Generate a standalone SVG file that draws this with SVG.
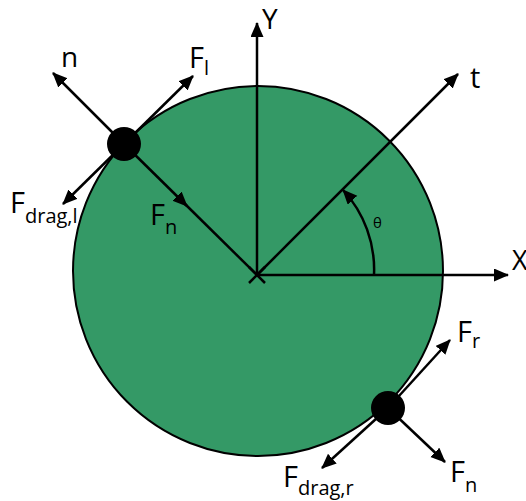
<svg xmlns="http://www.w3.org/2000/svg" width="526" height="501" viewBox="0 0 526 501">
<defs>
<marker id="ah" markerUnits="userSpaceOnUse" markerWidth="17" markerHeight="14" refX="14" refY="6.5" orient="auto">
<path d="M0,0 L15,6.5 L0,13 Z" fill="#000"/>
</marker>
<style>
.ln{stroke:#000;stroke-width:2.5;fill:none}
.ar{stroke:#000;stroke-width:2.5;fill:none;marker-end:url(#ah)}
.lb{font-family:"Open Sans","Liberation Sans",sans-serif;fill:#000}
.big{font-size:29px}
.sub{font-size:20px}
</style>
</defs>
<rect width="526" height="501" fill="#fff"/>
<g id="disk">
<ellipse cx="258" cy="271" rx="185" ry="185" fill="#349966" stroke="#000" stroke-width="2"/>
</g>
<g id="connectors">
<line class="ar" x1="257" y1="275" x2="257" y2="23"/>
<line class="ar" x1="257" y1="275" x2="508" y2="275"/>
<line class="ar" x1="257" y1="275" x2="458" y2="74"/>
<path class="ar" d="M374 275 A117 117 0 0 0 343 190"/>
<line class="ln" x1="249" y1="267" x2="265" y2="283"/>
<line class="ln" x1="249" y1="283" x2="265" y2="267"/>
<line class="ar" x1="124" y1="144" x2="53" y2="73"/>
<line class="ar" x1="124" y1="144" x2="193" y2="76"/>
<line class="ar" x1="124" y1="144" x2="63" y2="204"/>
<line class="ar" x1="124" y1="144" x2="187" y2="206"/>
<line class="ln" x1="185" y1="204" x2="257" y2="275"/>
<line class="ar" x1="388" y1="408" x2="450" y2="340"/>
<line class="ar" x1="388" y1="408" x2="322" y2="468"/>
<line class="ar" x1="388" y1="408" x2="445" y2="462"/>
</g>
<g id="particle-left">
<circle cx="124" cy="144" r="17" fill="#000"/>
</g>
<g id="particle-right">
<circle cx="388" cy="408" r="17" fill="#000"/>
</g>
<g id="labels">
<text class="lb" x="262" y="29" font-size="28">Y</text>
<text class="lb" x="512" y="270" font-size="27">X</text>
<text class="lb" x="470" y="88" font-size="29">t</text>
<text class="lb" x="373" y="228" font-size="15" fill="#333">θ</text>
<text class="lb" x="61" y="67" font-size="28">n</text>
<text class="lb" x="189" y="68"><tspan class="big" font-size="26">F</tspan><tspan class="sub" dy="7">l</tspan></text>
<text class="lb" x="10" y="213"><tspan class="big">F</tspan><tspan class="sub" dy="10">drag,l</tspan></text>
<text class="lb" x="150" y="225"><tspan class="big">F</tspan><tspan class="sub" dy="9">n</tspan></text>
<text class="lb" x="457" y="342"><tspan class="big">F</tspan><tspan class="sub" dy="6">r</tspan></text>
<text class="lb" x="283" y="487"><tspan class="big">F</tspan><tspan class="sub" dy="8">drag,r</tspan></text>
<text class="lb" x="450" y="482"><tspan class="big">F</tspan><tspan class="sub" dy="10">n</tspan></text>
</g>
</svg>
